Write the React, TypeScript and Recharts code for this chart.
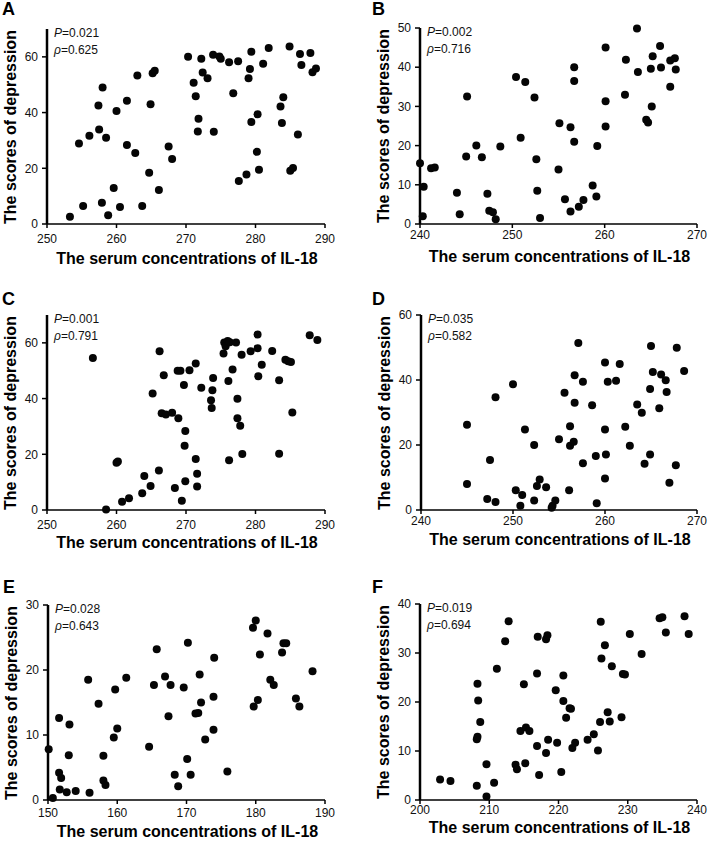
import { ScatterChart, Scatter, XAxis, YAxis } from 'recharts'

// IL-18 concentrations (x) and depression scores (y)
const il18A = [253.3, 254.6, 255.2, 256.1, 257.4, 257.5, 257.9, 258.0, 258.5, 258.8, 259.6, 260.0, 260.5, 261.5, 261.5, 262.7, 263.0, 263.7, 264.7, 264.9, 265.2, 265.5, 266.1, 267.5, 268.0, 270.3, 271.1, 271.4, 271.7, 271.8, 272.2, 272.4, 273.1, 273.9, 274.0, 274.8, 275.0, 276.2, 276.8, 277.5, 277.6, 278.7, 279.0, 279.2, 279.4, 279.4, 280.2, 280.3, 280.5, 281.1, 281.9, 283.6, 283.8, 284.0, 284.9, 285.0, 285.4, 286.1, 286.4, 286.6, 287.9, 288.2, 288.7]
const scoreA = [2.6, 28.9, 6.5, 31.7, 42.5, 33.9, 7.6, 49.0, 31.0, 3.1, 12.9, 40.6, 6.1, 28.4, 44.2, 25.5, 53.3, 6.5, 18.4, 43.0, 54.1, 55.0, 12.2, 27.8, 23.3, 60.0, 50.7, 45.9, 33.2, 37.8, 59.3, 54.4, 52.3, 60.8, 33.1, 60.1, 59.3, 58.1, 46.9, 58.4, 15.4, 17.8, 52.3, 55.6, 61.8, 36.6, 25.9, 39.4, 19.5, 57.5, 63.2, 42.2, 36.3, 45.5, 63.7, 19.1, 20.1, 32.1, 61.0, 57.1, 61.4, 54.5, 55.8]

const il18B = [240.0, 240.4, 240.3, 241.2, 241.6, 244.0, 244.3, 245.1, 245.0, 246.1, 246.7, 247.3, 247.5, 247.9, 248.2, 248.7, 250.4, 250.9, 251.4, 252.4, 252.6, 252.7, 253.0, 255.0, 255.1, 255.7, 256.3, 256.3, 256.7, 256.7, 256.7, 257.2, 257.7, 258.7, 259.1, 259.2, 260.1, 260.1, 260.1, 262.2, 262.3, 263.5, 263.6, 264.5, 264.7, 265.1, 265.2, 265.0, 266.0, 266.1, 267.1, 267.1, 267.6, 267.7]
const scoreB = [15.5, 9.5, 2.0, 14.2, 14.4, 8.0, 2.5, 32.5, 17.2, 20.0, 17.0, 7.7, 3.4, 3.0, 1.2, 19.8, 37.5, 22.0, 36.2, 32.3, 16.5, 8.5, 1.5, 13.9, 25.7, 6.3, 3.2, 24.7, 21.0, 36.5, 40.0, 4.4, 6.1, 9.8, 7.0, 19.9, 45.0, 31.3, 24.9, 33.0, 41.9, 49.9, 38.8, 26.6, 25.9, 30.0, 42.8, 39.6, 45.4, 39.9, 41.7, 35.0, 42.3, 39.4]

const il18C = [256.6, 258.5, 260.0, 260.2, 260.8, 261.8, 263.7, 264.0, 264.9, 265.2, 266.1, 266.2, 266.5, 266.8, 267.1, 268.0, 268.4, 268.8, 268.9, 269.2, 269.4, 269.7, 269.9, 269.8, 269.9, 270.5, 271.4, 271.4, 271.6, 271.6, 272.2, 273.6, 273.7, 273.8, 273.9, 275.4, 275.5, 275.7, 276.0, 276.1, 276.2, 276.3, 276.7, 277.2, 277.4, 277.4, 277.8, 278.0, 278.1, 279.3, 280.3, 280.3, 280.4, 280.9, 282.4, 283.4, 283.4, 284.3, 284.7, 285.1, 285.3, 287.8, 288.9]
const scoreC = [54.6, 0.2, 17.0, 17.4, 3.0, 4.2, 6.0, 12.2, 8.6, 41.8, 14.2, 57.0, 34.7, 48.4, 34.3, 34.9, 7.9, 50.0, 32.9, 50.0, 3.3, 44.9, 28.4, 23.1, 10.3, 50.2, 52.6, 18.3, 13.0, 8.4, 43.9, 39.4, 36.6, 43.0, 47.4, 56.2, 60.1, 58.8, 60.7, 46.3, 17.9, 60.2, 50.4, 60.1, 39.9, 32.9, 30.2, 55.7, 20.1, 57.0, 63.0, 58.1, 48.0, 52.1, 57.1, 46.6, 20.2, 53.9, 53.4, 53.1, 35.0, 62.7, 61.0]

const il18D = [245.0, 245.0, 247.2, 247.5, 248.1, 248.1, 250.0, 250.3, 250.8, 251.0, 251.3, 252.3, 252.3, 252.6, 252.9, 253.6, 254.2, 254.3, 254.6, 255.0, 255.6, 256.1, 256.2, 256.2, 256.6, 256.7, 256.7, 257.1, 257.6, 257.6, 258.6, 259.0, 259.1, 260.0, 260.0, 260.0, 260.1, 260.3, 261.2, 261.6, 262.2, 262.7, 263.5, 264.0, 264.3, 264.9, 264.9, 265.0, 265.2, 265.9, 266.1, 266.6, 266.7, 267.0, 267.7, 267.8, 268.6]
const scoreD = [26.2, 8.0, 3.4, 15.4, 2.5, 34.7, 38.7, 6.1, 1.3, 4.6, 24.8, 20.0, 2.9, 7.4, 9.4, 7.0, 0.7, 1.3, 2.9, 21.8, 36.1, 6.1, 19.8, 25.8, 21.0, 33.0, 41.5, 51.4, 39.5, 14.4, 32.2, 16.6, 2.1, 45.4, 24.8, 9.7, 17.1, 39.5, 39.8, 44.9, 25.6, 19.8, 32.5, 29.9, 14.2, 17.1, 37.2, 50.5, 42.5, 31.3, 41.7, 39.9, 36.3, 8.4, 13.8, 49.9, 42.8]

const il18E = [150.1, 150.7, 151.6, 151.6, 151.9, 151.7, 152.7, 153.0, 153.1, 154.0, 155.8, 156.0, 157.3, 158.0, 158.0, 158.3, 159.5, 159.7, 160.0, 161.3, 164.6, 165.3, 165.7, 166.9, 167.4, 167.7, 168.3, 168.8, 169.6, 170.1, 170.2, 170.6, 171.3, 171.7, 171.9, 172.1, 172.7, 173.9, 173.9, 174.0, 175.9, 179.6, 179.7, 180.0, 180.3, 180.6, 181.7, 182.1, 182.6, 183.8, 184.0, 184.4, 185.8, 186.3, 188.2]
const scoreE = [7.8, 0.3, 12.6, 4.2, 3.4, 1.6, 1.2, 6.9, 11.6, 1.4, 18.5, 1.1, 14.8, 6.8, 3.0, 2.3, 9.6, 17.0, 11.0, 18.8, 8.2, 17.7, 23.2, 19.0, 12.9, 17.7, 3.9, 2.1, 17.3, 6.3, 24.2, 3.9, 13.3, 13.4, 19.3, 15.0, 9.3, 10.8, 15.9, 21.9, 4.4, 26.5, 14.4, 27.6, 15.4, 22.4, 25.6, 18.5, 17.7, 22.7, 24.1, 24.1, 15.6, 14.4, 19.8]

const il18F = [202.9, 204.4, 208.2, 208.2, 208.3, 208.3, 208.4, 208.7, 209.6, 209.6, 210.7, 211.1, 212.3, 212.8, 213.8, 214.0, 214.5, 215.0, 215.2, 215.3, 215.8, 216.9, 216.9, 217.0, 217.2, 218.2, 218.4, 218.2, 218.5, 219.6, 219.8, 220.4, 220.7, 220.7, 221.1, 221.6, 221.8, 222.0, 222.4, 224.2, 225.1, 225.7, 226.0, 226.1, 226.2, 226.7, 227.1, 227.4, 227.7, 229.1, 229.3, 229.6, 230.3, 232.0, 234.6, 235.0, 235.5, 238.2, 238.8]
const scoreF = [4.2, 3.9, 2.9, 12.4, 12.9, 23.7, 20.3, 15.9, 0.7, 7.3, 3.5, 26.8, 32.4, 36.5, 7.2, 6.3, 14.1, 23.6, 7.5, 14.8, 14.1, 11.0, 25.8, 33.3, 5.1, 32.8, 33.6, 9.6, 12.3, 22.4, 11.7, 5.7, 25.4, 20.2, 16.8, 18.7, 18.6, 10.6, 11.7, 12.3, 13.4, 10.1, 15.9, 36.4, 28.9, 31.6, 17.9, 16.0, 27.3, 16.9, 25.7, 25.6, 33.9, 29.8, 37.1, 37.3, 34.2, 37.5, 33.9]

const ticksA = [250, 260, 270, 280, 290]
const ticksB = [240, 250, 260, 270]
const ticksE = [150, 160, 170, 180, 190]
const ticksF = [200, 210, 220, 230, 240]

const FONT = '"Liberation Sans", Arial, Helvetica, sans-serif'

const panels = [
  { letter: 'A', xs: il18A, ys: scoreA, xTicks: ticksA, yMax: 70, yTicks: [0, 20, 40, 60], p: '0.021', rho: '0.625',
    left: 0, top: 0, h: 280, plotLeft: 47, plotRight: 325, plotTop: 29, plotBottom: 224, tickGap: 6, titleY: 259, letterX: 2, letterY: 0 },
  { letter: 'B', xs: il18B, ys: scoreB, xTicks: ticksB, yMax: 50, yTicks: [0, 10, 20, 30, 40, 50], p: '0.002', rho: '0.716',
    left: 354, top: 0, h: 280, plotLeft: 66, plotRight: 343, plotTop: 28, plotBottom: 224, tickGap: 2, titleY: 257, letterX: 18, letterY: 0 },
  { letter: 'C', xs: il18C, ys: scoreC, xTicks: ticksA, yMax: 70, yTicks: [0, 20, 40, 60], p: '0.001', rho: '0.791',
    left: 0, top: 280, h: 280, plotLeft: 47, plotRight: 325, plotTop: 35, plotBottom: 230, tickGap: 6, titleY: 263, letterX: 2, letterY: 10 },
  { letter: 'D', xs: il18D, ys: scoreD, xTicks: ticksB, yMax: 60, yTicks: [0, 20, 40, 60], p: '0.035', rho: '0.582',
    left: 354, top: 280, h: 280, plotLeft: 67, plotRight: 343, plotTop: 35, plotBottom: 230, tickGap: 2, titleY: 260, letterX: 18, letterY: 10 },
  { letter: 'E', xs: il18E, ys: scoreE, xTicks: ticksE, yMax: 30, yTicks: [0, 10, 20, 30], p: '0.028', rho: '0.643',
    left: 0, top: 560, h: 282, plotLeft: 48, plotRight: 325, plotTop: 45, plotBottom: 240, tickGap: 4, titleY: 272, letterX: 3, letterY: 18 },
  { letter: 'F', xs: il18F, ys: scoreF, xTicks: ticksF, yMax: 40, yTicks: [0, 10, 20, 30, 40], p: '0.019', rho: '0.694',
    left: 354, top: 560, h: 282, plotLeft: 66, plotRight: 343, plotTop: 44, plotBottom: 240, tickGap: 1, titleY: 268, letterX: 18, letterY: 18 },
]

type PanelCfg = (typeof panels)[number]

const Dot = (props: any) => <circle cx={props.cx} cy={props.cy} r={4} fill="#050505" />

function Panel({ cfg }: { cfg: PanelCfg }) {
  const data = cfg.xs.map((x, i) => ({ x, y: cfg.ys[i] }))
  const plotCenterX = (cfg.plotLeft + cfg.plotRight) / 2
  const plotCenterY = (cfg.plotTop + cfg.plotBottom) / 2
  return (
    <div style={{ position: 'absolute', left: cfg.left, top: cfg.top, width: 354, height: cfg.h, fontFamily: FONT }}>
      <ScatterChart
        width={354}
        height={cfg.h}
        margin={{ top: cfg.plotTop, right: 354 - cfg.plotRight, left: 0, bottom: 0 }}
      >
        <XAxis
          type="number"
          dataKey="x"
          domain={[cfg.xTicks[0], cfg.xTicks[cfg.xTicks.length - 1]]}
          ticks={cfg.xTicks}
          height={cfg.h - cfg.plotBottom}
          axisLine={{ stroke: '#000', strokeWidth: 1.5 }}
          tickLine={{ stroke: '#000', strokeWidth: 1.5 }}
          tickSize={4}
          tickMargin={cfg.tickGap}
          tick={{ fill: '#111', fontSize: 12, fontFamily: FONT }}
        />
        <YAxis
          type="number"
          dataKey="y"
          domain={[0, cfg.yMax]}
          ticks={cfg.yTicks}
          width={cfg.plotLeft}
          axisLine={{ stroke: '#000', strokeWidth: 2.5 }}
          tickLine={{ stroke: '#000', strokeWidth: 1.5 }}
          tickSize={5}
          tickMargin={4}
          tick={{ fill: '#111', fontSize: 12, fontFamily: FONT }}
        />
        <Scatter data={data} shape={Dot} isAnimationActive={false} />
      </ScatterChart>

      <div style={{ position: 'absolute', left: cfg.plotLeft - 36, top: plotCenterY, transform: 'translate(-50%, -50%) rotate(-90deg)', whiteSpace: 'nowrap', fontSize: 16, fontWeight: 'bold', lineHeight: '16px', color: '#000' }}>
        The scores of depression
      </div>
      <div style={{ position: 'absolute', left: plotCenterX + 1, top: cfg.titleY, transform: 'translate(-50%, -50%)', whiteSpace: 'nowrap', fontSize: 16, fontWeight: 'bold', lineHeight: '16px', color: '#000' }}>
        The serum concentrations of IL-18
      </div>
      <div style={{ position: 'absolute', left: cfg.plotLeft + 7, top: cfg.plotTop - 4, fontSize: 12, lineHeight: '16.5px', color: '#111' }}>
        <div><i>P</i>={cfg.p}</div>
        <div><i>ρ</i>={cfg.rho}</div>
      </div>
      <div style={{ position: 'absolute', left: cfg.letterX, top: cfg.letterY, fontSize: 18, fontWeight: 'bold', lineHeight: '18px', color: '#000' }}>
        {cfg.letter}
      </div>
    </div>
  )
}

export default function App() {
  return (
    <div style={{ position: 'absolute', left: 0, top: 0, width: 708, height: 842, background: '#fff', overflow: 'hidden' }}>
      {panels.map((cfg) => (
        <Panel key={cfg.letter} cfg={cfg} />
      ))}
    </div>
  )
}
